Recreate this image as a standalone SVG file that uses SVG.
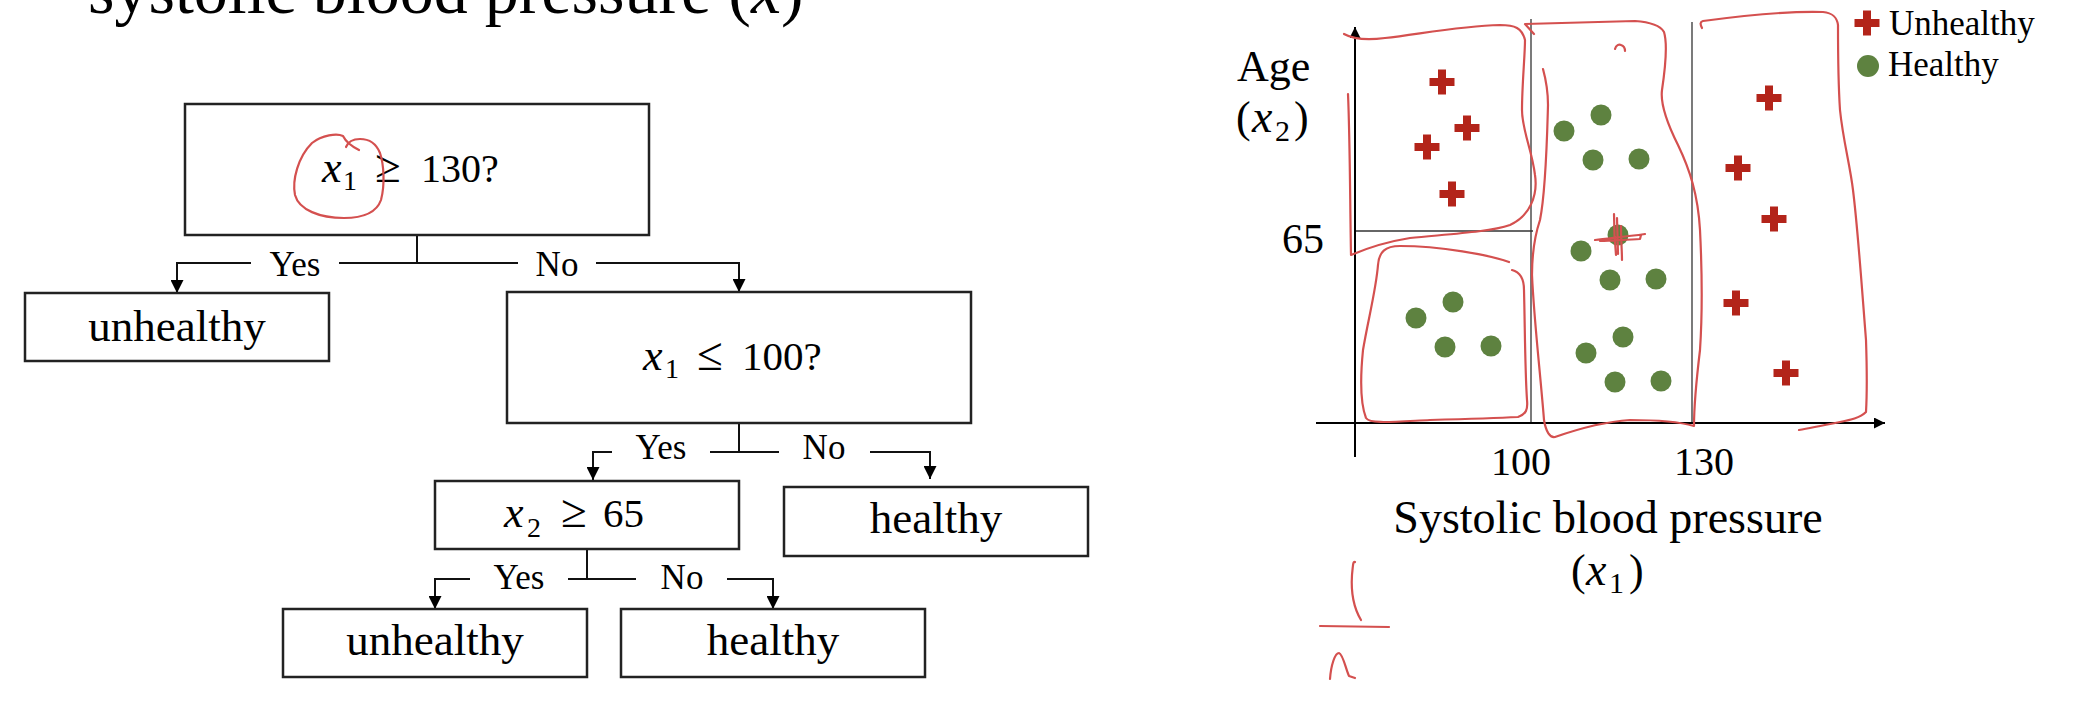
<svg xmlns="http://www.w3.org/2000/svg" xmlns:xlink="http://www.w3.org/1999/xlink" width="2082" height="720" viewBox="0 0 2082 720">
<style>
.t{font-family:"Liberation Serif","Times New Roman",serif;fill:#000}
.it{font-style:italic}
.rel{font-size:47px}
.box{fill:#fff;stroke:#222;stroke-width:2.5}
.con{fill:none;stroke:#111;stroke-width:2}
.ink{fill:none;stroke:#d4504f;stroke-width:2.2;stroke-linecap:round;stroke-linejoin:round}
.ax{fill:none;stroke:#000;stroke-width:2}
.div{fill:none;stroke:#333;stroke-width:1.3}
.dot{fill:#5e8240}
</style>
<defs>
<marker id="arr" viewBox="0 0 10 10" refX="10" refY="5" markerWidth="13" markerHeight="13" markerUnits="userSpaceOnUse" orient="auto"><path d="M0,0 L10,5 L0,10 z" fill="#000"/></marker>
<marker id="axarr" viewBox="0 0 10 10" refX="10" refY="5" markerWidth="12" markerHeight="11" markerUnits="userSpaceOnUse" orient="auto"><path d="M0,0 L10,5 L0,10 z" fill="#000"/></marker>
<g id="plus"><rect x="-12.5" y="-4" width="25" height="8" fill="#b3241a"/><rect x="-4" y="-12.5" width="8" height="25" fill="#b3241a"/></g>
</defs>

<text id="title" class="t" x="88" y="13" font-size="68">systolic blood pressure (<tspan class="it">x</tspan>)</text>

<g id="connectors">
<path class="con" d="M417,235 V263"/>
<path class="con" d="M251,263 H177 V293" marker-end="url(#arr)"/>
<path class="con" d="M339,263 H518"/>
<path class="con" d="M596,263 H739 V292" marker-end="url(#arr)"/>
<text class="t" x="295" y="276" font-size="35" text-anchor="middle">Yes</text>
<text class="t" x="557" y="276" font-size="35" text-anchor="middle">No</text>

<path class="con" d="M739,423 V452"/>
<path class="con" d="M612,452 H593 V480" marker-end="url(#arr)"/>
<path class="con" d="M710,452 H779"/>
<path class="con" d="M870,452 H930 V479" marker-end="url(#arr)"/>
<text class="t" x="661" y="459" font-size="35" text-anchor="middle">Yes</text>
<text class="t" x="824" y="459" font-size="35" text-anchor="middle">No</text>

<path class="con" d="M587,549 V579"/>
<path class="con" d="M470,579 H435 V609" marker-end="url(#arr)"/>
<path class="con" d="M568,579 H636"/>
<path class="con" d="M727,579 H773 V609" marker-end="url(#arr)"/>
<text class="t" x="519" y="589" font-size="35" text-anchor="middle">Yes</text>
<text class="t" x="682" y="589" font-size="35" text-anchor="middle">No</text>
</g>

<g id="node-root">
<rect class="box" x="185" y="104" width="464" height="131"/>
<text class="t" font-size="40"><tspan class="it" x="322" y="182" font-size="44">x</tspan><tspan x="343" y="190" font-size="28">1</tspan><tspan class="rel" x="375" y="182">≥</tspan><tspan x="421" y="182">130?</tspan></text>
</g>
<g id="node-unhealthy1">
<rect class="box" x="25" y="293" width="304" height="68"/>
<text class="t" x="177" y="341" font-size="45" text-anchor="middle">unhealthy</text>
</g>
<g id="node-x1le100">
<rect class="box" x="507" y="292" width="464" height="131"/>
<text class="t" font-size="41"><tspan class="it" x="643" y="370" font-size="44">x</tspan><tspan x="665" y="378" font-size="28">1</tspan><tspan class="rel" x="697" y="370">≤</tspan><tspan x="742" y="370">100?</tspan></text>
</g>
<g id="node-x2ge65">
<rect class="box" x="435" y="481" width="304" height="68"/>
<text class="t" font-size="41"><tspan class="it" x="504" y="527" font-size="44">x</tspan><tspan x="527" y="537" font-size="28">2</tspan><tspan class="rel" x="561" y="527">≥</tspan><tspan x="603" y="527">65</tspan></text>
</g>
<g id="node-healthy1">
<rect class="box" x="784" y="487" width="304" height="69"/>
<text class="t" x="936" y="533" font-size="45" text-anchor="middle">healthy</text>
</g>
<g id="node-unhealthy2">
<rect class="box" x="283" y="609" width="304" height="68"/>
<text class="t" x="435" y="655" font-size="45" text-anchor="middle">unhealthy</text>
</g>
<g id="node-healthy2">
<rect class="box" x="621" y="609" width="304" height="68"/>
<text class="t" x="773" y="655" font-size="45" text-anchor="middle">healthy</text>
</g>

<path class="ink" d="M359,150 C353,147 346,142 343,136 C337,133 322,135 312,143 C298,157 292,180 295,195 C299,210 320,218 344,218 C362,218 376,214 381,200 C385,185 384,165 380,153 C376,143 368,139 360,139 C353,139 348,142 346,147"/>

<g id="plot">
<path class="div" d="M1531,19 V423" stroke="#555"/>
<path class="div" d="M1692,22 V423" stroke="#111"/>
<path class="div" d="M1355,231 H1533" stroke="#444"/>
<path class="ax" d="M1355,457 V27" marker-end="url(#axarr)"/>
<path class="ax" d="M1316,423 H1885" marker-end="url(#axarr)"/>

<text class="t" x="1237" y="81" font-size="44">Age</text>
<text class="t" font-size="44"><tspan x="1236" y="132">(</tspan><tspan class="it" x="1252" y="132" font-size="46">x</tspan><tspan x="1275" y="141" font-size="30">2</tspan><tspan x="1294" y="132">)</tspan></text>
<text class="t" x="1282" y="253" font-size="42">65</text>
<text class="t" x="1521" y="475" font-size="40" text-anchor="middle">100</text>
<text class="t" x="1704" y="475" font-size="40" text-anchor="middle">130</text>
<text class="t" x="1608" y="533" font-size="46" text-anchor="middle">Systolic blood pressure</text>
<text class="t" font-size="44"><tspan x="1571" y="585">(</tspan><tspan class="it" x="1586" y="585" font-size="46">x</tspan><tspan x="1609" y="593" font-size="30">1</tspan><tspan x="1629" y="585">)</tspan></text>

<use xlink:href="#plus" x="1442" y="82"/>
<use xlink:href="#plus" x="1467" y="128"/>
<use xlink:href="#plus" x="1427" y="147"/>
<use xlink:href="#plus" x="1452" y="194"/>
<use xlink:href="#plus" x="1769" y="98"/>
<use xlink:href="#plus" x="1738" y="168"/>
<use xlink:href="#plus" x="1774" y="219"/>
<use xlink:href="#plus" x="1736" y="303"/>
<use xlink:href="#plus" x="1786" y="373"/>

<circle class="dot" cx="1453" cy="302" r="10.5"/>
<circle class="dot" cx="1416" cy="318" r="10.5"/>
<circle class="dot" cx="1445" cy="347" r="10.5"/>
<circle class="dot" cx="1491" cy="346" r="10.5"/>
<circle class="dot" cx="1601" cy="115" r="10.5"/>
<circle class="dot" cx="1564" cy="131" r="10.5"/>
<circle class="dot" cx="1593" cy="160" r="10.5"/>
<circle class="dot" cx="1639" cy="159" r="10.5"/>
<circle class="dot" cx="1618" cy="235" r="10.5"/>
<circle class="dot" cx="1581" cy="251" r="10.5"/>
<circle class="dot" cx="1610" cy="280" r="10.5"/>
<circle class="dot" cx="1656" cy="279" r="10.5"/>
<circle class="dot" cx="1623" cy="337" r="10.5"/>
<circle class="dot" cx="1586" cy="353" r="10.5"/>
<circle class="dot" cx="1615" cy="382" r="10.5"/>
<circle class="dot" cx="1661" cy="381" r="10.5"/>

<use xlink:href="#plus" x="1867" y="23"/>
<text class="t" x="1889" y="35" font-size="35">Unhealthy</text>
<circle class="dot" cx="1868" cy="66" r="11"/>
<text class="t" x="1888" y="76" font-size="35">Healthy</text>
</g>

<g id="ink">
<path class="ink" d="M1348,94 C1350,140 1350,200 1351,255 C1365,249 1385,242 1410,238 C1450,234 1490,232 1510,225 C1530,216 1538,195 1535,175 C1532,150 1522,130 1522,110 C1522,85 1525,55 1525,40 C1522,28 1515,25 1500,25 C1460,26 1420,34 1385,38 C1370,40 1355,40 1344,34"/>
<path class="ink" d="M1509,262 C1490,255 1440,246 1400,246 C1385,246 1379,252 1378,265 C1376,290 1368,320 1363,350 C1360,380 1361,405 1366,418 C1370,424 1390,422 1430,420 C1470,419 1500,418 1518,417 C1526,414 1528,410 1527,400 C1525,370 1525,330 1524,290 C1524,278 1520,272 1512,270"/>
<path class="ink" d="M1534,34 L1525,24 C1560,23 1600,22 1635,21 C1650,22 1660,25 1664,32 C1668,45 1665,70 1662,90 C1660,105 1668,125 1678,145 C1690,170 1698,195 1700,230 C1702,270 1702,320 1700,350 C1697,375 1694,400 1694,426 C1680,422 1660,420 1630,420 C1600,422 1575,430 1555,437 C1550,438 1546,432 1544,420 C1540,370 1534,320 1532,275 C1532,250 1535,235 1540,220 C1546,190 1547,140 1548,105 C1548,90 1546,80 1543,69"/>
<path class="ink" d="M1702,28 C1700,24 1700,22 1703,21 C1740,16 1790,11 1823,12 C1833,13 1837,17 1838,25 C1838,50 1838,80 1840,110 C1843,140 1850,165 1853,190 C1858,230 1862,290 1866,340 C1867,370 1867,395 1866,412 C1860,418 1850,420 1840,422 C1825,425 1810,428 1799,430"/>
<path class="ink" d="M1615,49 C1616,45 1619,44 1621,45 C1624,46 1625,48 1625,51"/>
<path class="ink" stroke-width="3" d="M1614,214 C1614,230 1615,245 1616,255 M1617,218 L1618,254 M1621,226 C1621,240 1622,252 1622,260 M1595,240 C1610,238 1625,237 1645,234 M1600,241 C1615,240 1628,240 1640,239 L1641,235"/>
<path class="ink" d="M1355,562 C1353,561 1353,565 1352,575 C1351,590 1352,605 1361,620"/>
<path class="ink" d="M1320,626 L1389,627"/>
<path class="ink" d="M1330,679 C1331,665 1335,653 1339,653 C1343,654 1346,670 1349,676 L1355,678"/>
</g>
</svg>
